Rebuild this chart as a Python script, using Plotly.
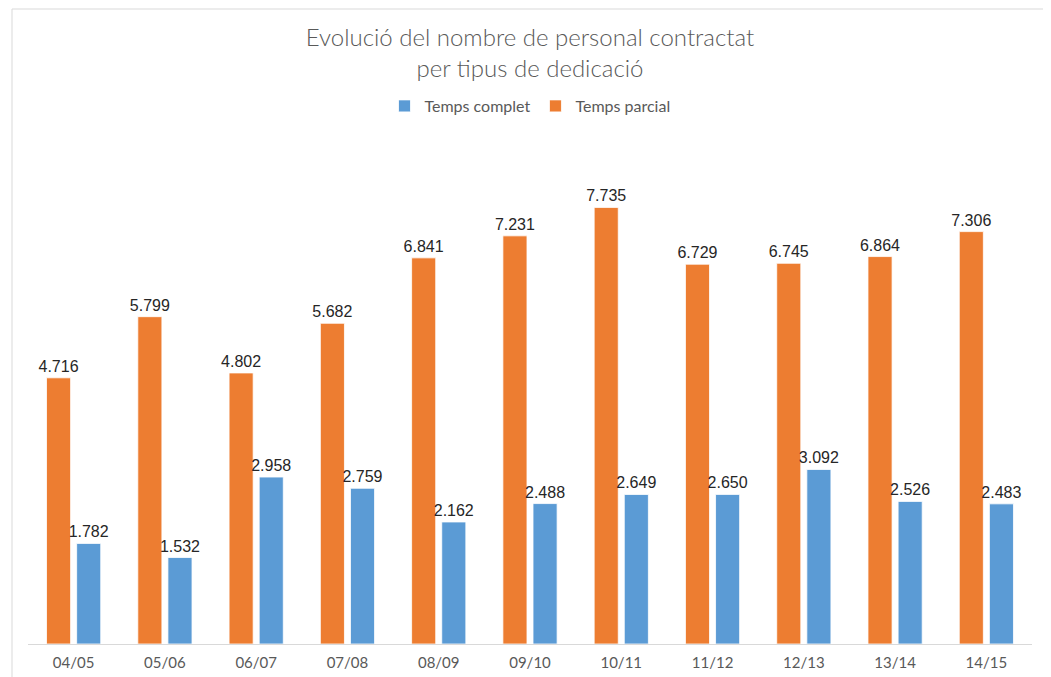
import plotly.graph_objects as go

categories = ["04/05", "05/06", "06/07", "07/08", "08/09", "09/10", "10/11", "11/12", "12/13", "13/14", "14/15"]
temps_parcial = [4716, 5799, 4802, 5682, 6841, 7231, 7735, 6729, 6745, 6864, 7306]
temps_complet = [1782, 1532, 2958, 2759, 2162, 2488, 2649, 2650, 3092, 2526, 2483]

# page body has an 8px margin; figure is sized to fit the 1051x677 window
OFF = 8
W, H = 1051 - OFF, 677 - OFF
L = 28 - OFF
T = 136 - OFF
R = W - (1032 - OFF)
B = H - (644 - OFF)
pw = W - L - R
ph = H - T - B

label_font = dict(family="Liberation Sans, Arial", size=16, color="#262626")

fig = go.Figure()
fig.add_trace(go.Bar(
    x=categories, y=temps_parcial, name="Temps parcial",
    marker=dict(color="#ED7D31", line=dict(color="white", width=0.8)),
    texttemplate="%{y:,}", textposition="outside", constraintext="none",
    textfont=label_font, cliponaxis=False,
))
fig.add_trace(go.Bar(
    x=categories, y=temps_complet, name="Temps complet",
    marker=dict(color="#5B9BD5", line=dict(color="white", width=0.8)),
    texttemplate="%{y:,}", textposition="outside", constraintext="none",
    textfont=label_font, cliponaxis=False,
))

fig.update_layout(
    width=W, height=H,
    margin=dict(l=L, r=R, t=T, b=B, autoexpand=False),
    paper_bgcolor="white", plot_bgcolor="white",
    separators=",.",
    barmode="group", bargap=0.34, bargroupgap=0.2,
    title=dict(
        text="Evolució del nombre de personal contractat<br>per tipus de dedicació",
        x=0.5, xanchor="center", xref="paper",
        y=1 - 38 / H, yanchor="top", yref="container",
        font=dict(family="Lato", size=24, color="#595959", weight=300),
    ),
    legend=dict(
        orientation="h", traceorder="reversed",
        x=0.5, xanchor="center", y=((644 - OFF) - (106 - OFF)) / ph, yanchor="middle",
        font=dict(family="Lato", size=16, color="#595959"),
    ),
    showlegend=True,
    xaxis=dict(
        showline=True, linecolor="#D9D9D9", linewidth=1,
        ticks="", showgrid=False, ticklabelstandoff=5, automargin=False,
        tickfont=dict(family="Lato", size=15, color="#595959"),
    ),
    yaxis=dict(range=[0, 9000], visible=False, showgrid=False, automargin=False),
)

fig.add_shape(
    type="rect", xref="paper", yref="paper",
    x0=(12 - 28) / pw, x1=(1047 - 28) / pw,
    y0=(644 - 700) / ph, y1=(644 - 9) / ph,
    line=dict(color="#D9D9D9", width=1), fillcolor="rgba(0,0,0,0)",
    layer="below",
)

fig.write_html("out.html")
